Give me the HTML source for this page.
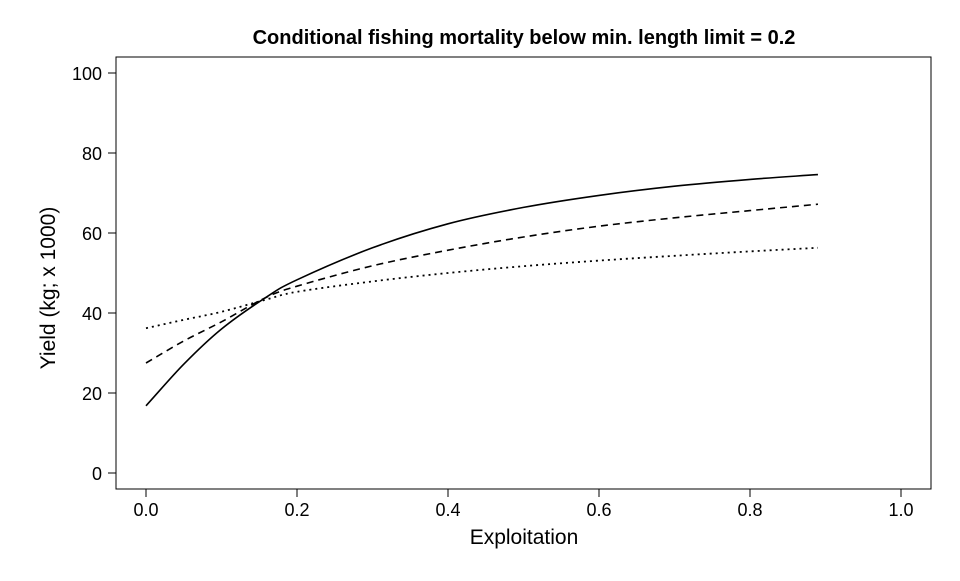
<!DOCTYPE html>
<html><head><meta charset="utf-8"><style>
body{margin:0;background:#fff}
svg text{font-family:"Liberation Sans",sans-serif;fill:#000}
</style></head><body>
<svg id="chart" width="960" height="576" xmlns="http://www.w3.org/2000/svg">
<rect width="960" height="576" fill="#fff"/>
<text x="524" y="44" text-anchor="middle" font-size="20" font-weight="bold">Conditional fishing mortality below min. length limit = 0.2</text>
<rect x="116" y="57" width="815" height="432" fill="none" stroke="#000" stroke-width="1"/>
<g id="xaxis"></g>
<g id="yaxis"></g>
<text x="524" y="544" text-anchor="middle" font-size="21">Exploitation</text>
<text transform="translate(55,288) rotate(-90)" text-anchor="middle" font-size="21">Yield (kg; x 1000)</text>
<g id="series"></g>
</svg>
<script>
const xs=[0,0.05,0.1,0.158,0.2,0.3,0.4,0.5,0.6,0.7,0.8,0.89];
const solid=[16.8,27.2,36,43.8,48.3,56.3,62.3,66.4,69.4,71.7,73.4,74.6];
const dashed=[27.5,33,37.8,43.8,46.7,51.8,55.7,59,61.7,63.8,65.6,67.2];
const dotted=[36.2,38.3,40.3,43.3,45.3,47.9,50,51.7,53.1,54.3,55.4,56.3];
const xTicks=[0,0.2,0.4,0.6,0.8,1.0];
const xTickLabels=["0.0","0.2","0.4","0.6","0.8","1.0"];
const yTicks=[0,20,40,60,80,100];
const NS="http://www.w3.org/2000/svg";
const X=v=>146+v*755, Y=v=>473-v*4;
function mk(t,a,p){const e=document.createElementNS(NS,t);for(const k in a)e.setAttribute(k,a[k]);p.appendChild(e);return e;}
const xa=document.getElementById('xaxis'), ya=document.getElementById('yaxis');
xTicks.forEach((t,i)=>{
 const l=mk('line',{x1:X(t),x2:X(t),y1:489,y2:497,stroke:'#000'},xa);
 
 
 const s=mk('text',{x:X(t),y:516,'text-anchor':'middle','font-size':18},xa);s.textContent=xTickLabels[i];
 
 
});
yTicks.forEach(t=>{
 const l=mk('line',{x1:108,x2:116,y1:Y(t),y2:Y(t),stroke:'#000'},ya);
 
 
 const s=mk('text',{x:102,y:Y(t)+7,'text-anchor':'end','font-size':18},ya);s.textContent=t;
 
 
});
function path(vals){
 const p=xs.map((x,i)=>[X(x),Y(vals[i])]);
 const n=p.length;
 const first=[2*p[0][0]-p[1][0],2*p[0][1]-p[1][1]];
 const last=[2*p[n-1][0]-p[n-2][0],2*p[n-1][1]-p[n-2][1]];
 const q=[first,...p,last];
 let d='M'+p[0][0]+','+p[0][1];
 for(let i=1;i<q.length-2;i++){
  const p0=q[i-1],p1=q[i],p2=q[i+1],p3=q[i+2];
  const c1=[p1[0]+(p2[0]-p0[0])/6,p1[1]+(p2[1]-p0[1])/6];
  const c2=[p2[0]-(p3[0]-p1[0])/6,p2[1]-(p3[1]-p1[1])/6];
  d+=` C${c1[0]},${c1[1]} ${c2[0]},${c2[1]} ${p2[0]},${p2[1]}`;
 }
 return d;
}
const sg=document.getElementById('series');
const a=mk('path',{d:path(solid),fill:'none',stroke:'#000','stroke-width':1.6},sg);


const b=mk('path',{d:path(dashed),fill:'none',stroke:'#000','stroke-width':1.6,'stroke-dasharray':'7,5'},sg);


const c=mk('path',{d:path(dotted),fill:'none',stroke:'#000','stroke-width':1.8,'stroke-dasharray':'2,4'},sg);


</script>
</body></html>
